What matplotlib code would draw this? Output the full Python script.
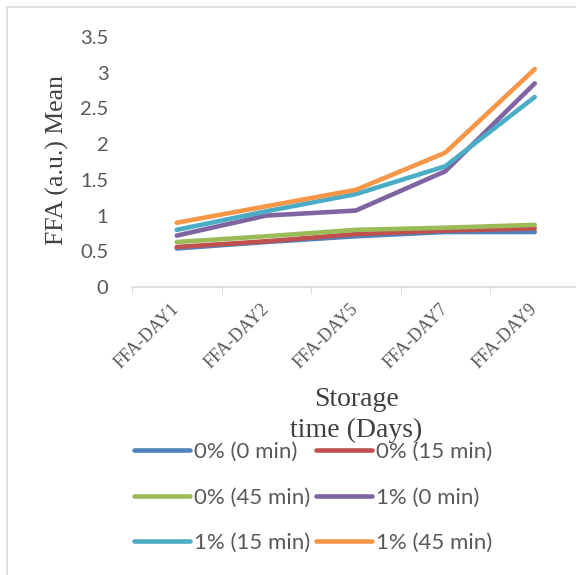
import numpy as np
import matplotlib
matplotlib.use("Agg")
import matplotlib.pyplot as plt
from matplotlib.patches import Rectangle

# data
days = ["FFA-DAY1", "FFA-DAY2", "FFA-DAY5", "FFA-DAY7", "FFA-DAY9"]
labels = ["0% (0 min)", "0% (15 min)", "0% (45 min)",
          "1% (0 min)", "1% (15 min)", "1% (45 min)"]
s_0_0 = [0.54, 0.63, 0.71, 0.77, 0.77]
s_0_15 = [0.56, 0.64, 0.74, 0.79, 0.82]
s_0_45 = [0.63, 0.71, 0.80, 0.83, 0.87]
s_1_0 = [0.72, 1.00, 1.07, 1.62, 2.85]
s_1_15 = [0.80, 1.06, 1.30, 1.69, 2.66]
s_1_45 = [0.90, 1.13, 1.36, 1.88, 3.05]
series = [s_0_0, s_0_15, s_0_45, s_1_0, s_1_15, s_1_45]
colors = ["#4F81BD", "#C0504D", "#9BBB59", "#8064A2", "#4BACC6", "#F79646"]

W, H = 576, 575
fig = plt.figure(figsize=(W / 100, H / 100), dpi=100)

# partial chart border (Excel chart area)
fig.add_artist(Rectangle((7 / W, -0.1), 1.2, 1 - 7 / H + 0.1, transform=fig.transFigure,
                         fill=False, edgecolor="#d9d9d9", linewidth=1.2))

ax = fig.add_axes([132 / W, 1 - 287 / H, (579.5 - 132) / W, 250 / H])
x = np.arange(len(days))
lines = []
for y, c, lab in zip(series, colors, labels):
    ln, = ax.plot(x, y, color=c, linewidth=3.3, label=lab, solid_capstyle="round",
                  solid_joinstyle="round")
    lines.append(ln)

ax.set_xlim(-0.5, len(days) - 0.5)
ax.set_ylim(0, 3.5)
ax.set_yticks(np.arange(0, 3.51, 0.5))
ax.set_yticklabels(["0", "0.5", "1", "1.5", "2", "2.5", "3", "3.5"],
                   family="Lato", fontsize=14.5, color="#595959")
ax.set_xticks(x)
ax.set_xticklabels(days, rotation=45, ha="right", va="center", rotation_mode="anchor",
                   family="Liberation Serif", fontsize=13, color="#595959")
ax.set_xticks(np.arange(-0.5, len(days)), minor=True)
ax.tick_params(axis="x", which="major", length=0, pad=14)
ax.tick_params(axis="x", which="minor", length=5, color="#d9d9d9")
ax.tick_params(axis="y", length=0, pad=17)
for s in ["top", "right", "left"]:
    ax.spines[s].set_visible(False)
ax.spines["bottom"].set_color("#d9d9d9")
ax.spines["bottom"].set_linewidth(1.2)

fig.text(57 / W, 1 - 160 / H, "FFA (a.u.) Mean", rotation=90, ha="center", va="center",
         family="Liberation Serif", fontsize=18.5, color="#404040")
fig.text(356 / W, 1 - 415 / H, "Storage\ntime (Days)", ha="center", va="center",
         family="Liberation Serif", fontsize=20, color="#404040", linespacing=1.3)

# row-wise order like Excel
order = [0, 2, 4, 1, 3, 5]
fig.legend([lines[i] for i in order], [labels[i] for i in order],
           loc="upper left", bbox_to_anchor=(134 / W, 1 - 442 / H), ncol=2,
           frameon=False, borderpad=0, borderaxespad=0,
           prop={"family": "Lato", "size": 16}, labelcolor="#595959",
           handlelength=2.5, handletextpad=0.18, columnspacing=0.3, labelspacing=1.15)

fig.savefig("out.png", dpi=100)
